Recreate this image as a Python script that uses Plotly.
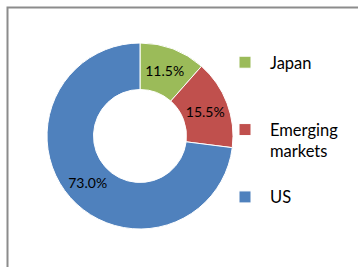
import plotly.graph_objects as go

categories = ["Japan", "Emerging markets", "US"]
legend_labels = ["Japan<br>&nbsp;<br>&nbsp;", "Emerging<br>markets<br>&nbsp;", "US"]
values = [11.5, 15.5, 73.0]
colors = ["#9BBB59", "#C0504D", "#4F81BD"]

W, H = 358, 267

fig = go.Figure(go.Pie(
    labels=legend_labels,
    values=values,
    customdata=categories,
    sort=False,
    direction="clockwise",
    rotation=0,
    hole=0.5,
    marker=dict(colors=colors, line=dict(color="white", width=1)),
    texttemplate="%{value:.1f}%",
    textposition="inside",
    insidetextorientation="horizontal",
    textfont=dict(family="Lato", size=14, color="black"),
    domain=dict(x=[47 / W, 233 / W], y=[1 - 229 / H, 1 - 43 / H]),
    showlegend=True,
))

fig.update_layout(
    width=W, height=H,
    margin=dict(l=0, r=0, t=0, b=0),
    paper_bgcolor="white",
    plot_bgcolor="white",
    legend=dict(
        x=220 / W, y=1 - 45 / H, xanchor="left", yanchor="top",
        font=dict(family="Lato", size=16.5, color="black"),
        valign="top",
        itemwidth=40,
        bgcolor="rgba(0,0,0,0)",
    ),
    shapes=[dict(
        type="rect", xref="paper", yref="paper",
        x0=7.5 / W, x1=1.2, y0=-0.2, y1=1 - 7.5 / H,
        line=dict(color="#8C8C8C", width=2),
        fillcolor="rgba(0,0,0,0)",
    )],
)

fig.write_html(
    "out.html",
    config={"displayModeBar": False},
    post_script="document.body.style.margin='0';document.body.style.overflow='hidden';",
)
